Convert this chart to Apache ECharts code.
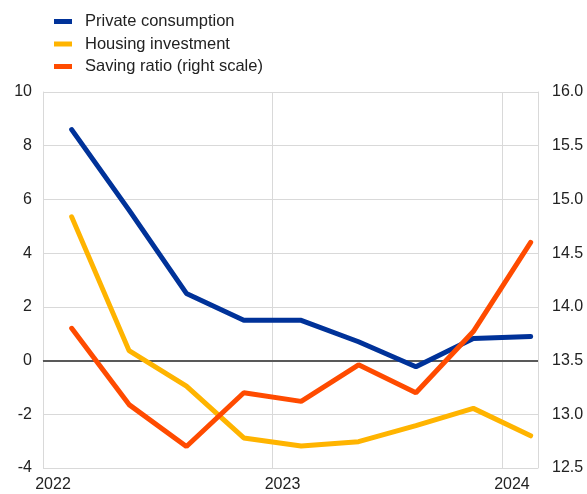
<!DOCTYPE html>
<html>
<head>
<meta charset="utf-8">
<script src="https://cdn.jsdelivr.net/npm/echarts@6/dist/echarts.min.js"></script>
<style>
html,body{margin:0;padding:0;background:#fff;}
#chart{width:587px;height:494px;}
</style>
</head>
<body>
<div id="chart"></div>
<script>
// Quarterly observations, plotted at mid-quarter (year fraction)
var quarters = [2022.125, 2022.375, 2022.625, 2022.875, 2023.125, 2023.375, 2023.625, 2023.875, 2024.125];
var privateConsumption = [8.6, 5.6, 2.5, 1.5, 1.5, 0.7, -0.23, 0.82, 0.9];
var housingInvestment = [5.35, 0.37, -0.95, -2.88, -3.18, -3.02, -2.42, -1.78, -2.8];
var savingRatio = [13.8, 13.09, 12.7, 13.2, 13.12, 13.46, 13.2, 13.77, 14.6];
var yearTicks = [2022, 2023, 2024];
var seriesNames = ['Private consumption', 'Housing investment', 'Saving ratio (right scale)'];

function pairs(xs, ys) { return xs.map(function (x, i) { return [x, ys[i]]; }); }

var chart = echarts.init(document.getElementById('chart'), null, {renderer: 'canvas'});
var font = 'Liberation Sans, Arial, sans-serif';
chart.setOption({
  animation: false,
  backgroundColor: '#ffffff',
  textStyle: {fontFamily: font},
  legend: {
    orient: 'vertical',
    left: 54,
    top: 13,
    padding: 0,
    itemWidth: 18,
    itemHeight: 5,
    itemGap: 5.5,
    icon: 'rect',
    textStyle: {fontFamily: font, fontSize: 16.5, color: '#222', lineHeight: 16, padding: [0, 0, 0, 8]},
    data: seriesNames
  },
  grid: {left: 43, right: 49, top: 92, bottom: 26, containLabel: false},
  xAxis: {
    type: 'value',
    min: 2022,
    max: 2024.157,
    interval: 1,
    axisLine: {show: true, lineStyle: {color: '#d9d9d9', width: 1}},
    axisTick: {show: false},
    splitLine: {show: true, lineStyle: {color: '#d9d9d9', width: 1}},
    axisLabel: {
      fontSize: 16, color: '#222', fontFamily: font, margin: 9,
      padding: [0, 0, 0, 20],
      showMaxLabel: false,
      formatter: function (v) { return yearTicks.indexOf(v) >= 0 ? String(v) : ''; }
    }
  },
  yAxis: [
    {
      type: 'value', min: -4, max: 10, interval: 2, position: 'left',
      axisLine: {show: true, lineStyle: {color: '#d9d9d9'}},
      axisTick: {show: false},
      splitLine: {show: true, lineStyle: {color: '#d9d9d9', width: 1}},
      axisLabel: {fontSize: 16, color: '#222', fontFamily: font, margin: 11}
    },
    {
      type: 'value', min: 12.5, max: 16, interval: 0.5, position: 'right',
      axisLine: {show: true, lineStyle: {color: '#d9d9d9'}},
      axisTick: {show: false},
      splitLine: {show: false},
      axisLabel: {fontSize: 16, color: '#222', fontFamily: font, margin: 14,
        formatter: function (v) { return v.toFixed(1); }}
    }
  ],
  series: [
    {
      name: seriesNames[0], type: 'line', yAxisIndex: 0, z: 4,
      data: pairs(quarters, privateConsumption),
      symbol: 'none', lineStyle: {width: 5, color: '#003299', cap: 'round'},
      itemStyle: {color: '#003299'},
      markLine: {
        silent: true, symbol: 'none', label: {show: false},
        lineStyle: {color: '#595959', width: 2, type: 'solid'},
        data: [{yAxis: 0}], z: 1
      }
    },
    {
      name: seriesNames[1], type: 'line', yAxisIndex: 0, z: 3,
      data: pairs(quarters, housingInvestment),
      symbol: 'none', lineStyle: {width: 5, color: '#FFB400', cap: 'round'},
      itemStyle: {color: '#FFB400'}
    },
    {
      name: seriesNames[2], type: 'line', yAxisIndex: 1, z: 5,
      data: pairs(quarters, savingRatio),
      symbol: 'none', lineStyle: {width: 5, color: '#FF4B00', cap: 'round'},
      itemStyle: {color: '#FF4B00'}
    }
  ]
});
</script>
</body>
</html>
